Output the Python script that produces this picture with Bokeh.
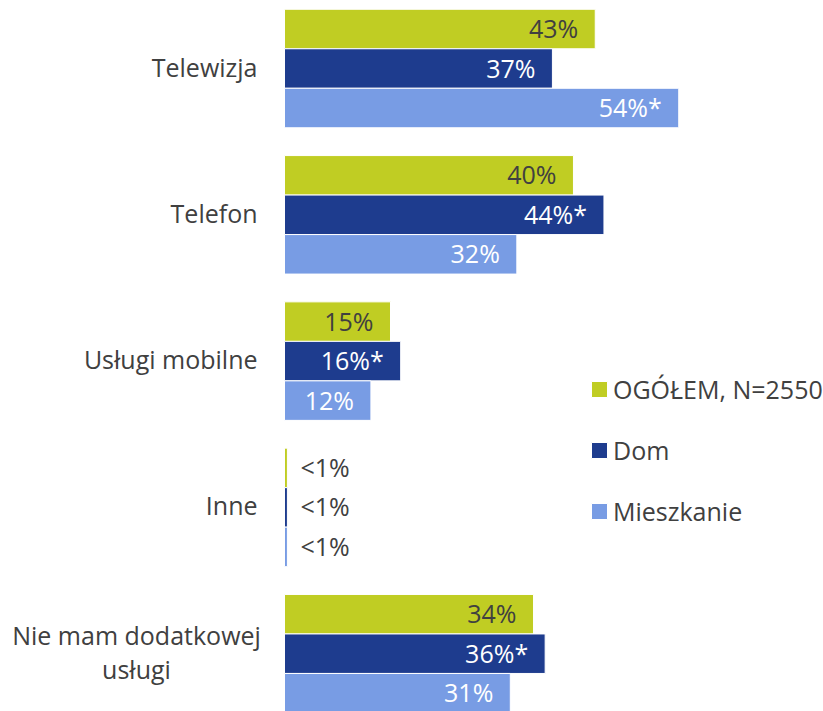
from bokeh.plotting import figure
from bokeh.models import ColumnDataSource, Range1d, Legend, LegendItem
from bokeh.core.properties import value
from bokeh.embed import file_html
from bokeh.resources import INLINE

categories = ["Telewizja", "Telefon", "Usługi mobilne", "Inne", "Nie mam dodatkowej\nusługi"]
series = ["OGÓŁEM, N=2550", "Dom", "Mieszkanie"]
ogolem = [42.8, 39.8, 14.6, 0.4, 34.3]
dom = [36.9, 44.0, 16.0, 0.4, 35.9]
mieszkanie = [54.3, 32.0, 11.9, 0.4, 31.1]
ogolem_labels = ["43%", "40%", "15%", "<1%", "34%"]
dom_labels = ["37%", "44%*", "16%*", "<1%", "36%*"]
mieszkanie_labels = ["54%*", "32%", "12%", "<1%", "31%"]

colors = ["#C0CD23", "#1E3C8E", "#789CE4"]
inside_text = ["#404040", "#FFFFFF", "#FFFFFF"]
TEXT = "#404040"
FONT = "Open Sans"
FS = "25px"

p = figure(width=823, height=711, output_backend="svg", toolbar_location=None,
           x_range=Range1d(-39.12, 74.24), y_range=Range1d(4.395, -0.465),
           min_border=0, min_border_left=0, min_border_right=0,
           min_border_top=0, min_border_bottom=0)
p.axis.visible = False
p.grid.visible = False
p.outline_line_color = None
p.background_fill_color = "white"
p.border_fill_color = "white"

bh = 0.27
offsets = [-bh, 0.0, bh]
vals = [ogolem, dom, mieszkanie]
labs = [ogolem_labels, dom_labels, mieszkanie_labels]
items = []
for k in range(3):
    ys = [i + offsets[k] for i in range(len(categories))]
    src = ColumnDataSource(dict(y=ys, right=vals[k], lab=labs[k]))
    r = p.hbar(y="y", left=0, right="right", height=bh, source=src,
               fill_color=colors[k], line_color="white", line_width=1)
    items.append(LegendItem(label=series[k], renderers=[r]))
    ins = [j for j in range(len(categories)) if vals[k][j] >= 5]
    outs = [j for j in range(len(categories)) if vals[k][j] < 5]
    s_in = ColumnDataSource(dict(x=[vals[k][j] for j in ins], y=[ys[j] for j in ins],
                                 t=[labs[k][j] for j in ins]))
    p.text(x="x", y="y", text="t", source=s_in, text_align="right", text_baseline="middle",
           x_offset=-17, y_offset=-1, text_color=inside_text[k], text_font=value(FONT),
           text_font_size=FS)
    s_out = ColumnDataSource(dict(x=[vals[k][j] for j in outs], y=[ys[j] for j in outs],
                                  t=[labs[k][j] for j in outs]))
    p.text(x="x", y="y", text="t", source=s_out, text_align="left", text_baseline="middle",
           x_offset=13, y_offset=-1, text_color=TEXT, text_font=value(FONT), text_font_size=FS)

# category labels
single = [i for i, c in enumerate(categories) if "\n" not in c]
multi = [i for i, c in enumerate(categories) if "\n" in c]
s_cat = ColumnDataSource(dict(x=[0] * len(single), y=single, t=[categories[i] for i in single]))
p.text(x="x", y="y", text="t", source=s_cat, text_align="right", text_baseline="middle",
       x_offset=-27, y_offset=-2, text_color=TEXT, text_font=value(FONT), text_font_size=FS)
s_multi = ColumnDataSource(dict(x=[0] * len(multi), y=multi, t=[categories[i] for i in multi]))
p.text(x="x", y="y", text="t", source=s_multi, text_align="center", text_baseline="middle",
       x_offset=-148, y_offset=-2, text_color=TEXT, text_font=value(FONT), text_font_size=FS,
       text_line_height=1.0)

legend = Legend(items=items, location=(589, 183), orientation="vertical",
                glyph_width=20, glyph_height=20, label_height=30, spacing=27,
                label_standoff=4, padding=0, margin=0,
                label_text_font=FONT, label_text_font_size=FS, label_text_color=TEXT,
                border_line_color=None, background_fill_alpha=0)
p.add_layout(legend, "center")

open("out.html", "w").write(file_html(p, INLINE))
